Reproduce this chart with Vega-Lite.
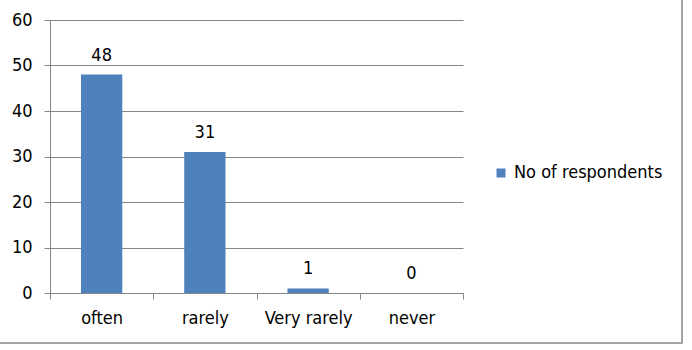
{
  "$schema": "https://vega.github.io/schema/vega-lite/v6.json",
  "width": 683,
  "height": 344,
  "autosize": "none",
  "padding": {"left": -1, "top": -1, "right": 10, "bottom": 7},
  "background": "white",
  "config": {
    "font": "DejaVu Sans Condensed",
    "view": {"stroke": "#868686", "strokeWidth": 1.5},
    "axis": {"labelFont": "DejaVu Sans Condensed", "labelFontSize": 18, "labelColor": "#000000", "domainColor": "#868686", "tickColor": "#868686", "gridColor": "#868686", "title": null}
  },
  "data": {
    "values": [
      {"response": "often", "count": 48},
      {"response": "rarely", "count": 31},
      {"response": "Very rarely", "count": 1},
      {"response": "never", "count": 0}
    ]
  },
  "encoding": {
    "x": {
      "field": "response",
      "type": "nominal",
      "sort": null,
      "scale": {"paddingInner": 0, "paddingOuter": 0, "range": [51, 464]},
      "axis": {"labelAngle": 0, "tickBand": "extent", "tickSize": 6, "labelPadding": 10, "grid": false, "offset": -50}
    },
    "y": {
      "field": "count",
      "type": "quantitative",
      "scale": {"domain": [0, 60], "nice": false, "range": [294, 21]},
      "axis": {"values": [0, 10, 20, 30, 40, 50, 60], "tickSize": 6, "labelPadding": 12, "grid": true, "offset": -51}
    }
  },
  "layer": [
    {
      "mark": {"type": "bar", "width": {"band": 0.4}},
      "encoding": {
        "color": {
          "datum": "No of respondents",
          "type": "nominal",
          "scale": {"range": ["#4F81BD"]},
          "legend": {
            "title": null,
            "orient": "none",
            "legendX": 493,
            "legendY": 165,
            "symbolType": "square",
            "symbolSize": 81,
            "symbolStrokeWidth": 0,
            "labelFont": "DejaVu Sans Condensed",
            "labelFontSize": 18,
            "labelColor": "#000000",
            "labelOffset": 4
          }
        }
      }
    },
    {
      "mark": {"type": "text", "dy": -14, "baseline": "alphabetic", "fontSize": 18, "font": "DejaVu Sans Condensed", "color": "#000000"},
      "encoding": {"text": {"field": "count", "type": "quantitative"}}
    }
  ]
}
